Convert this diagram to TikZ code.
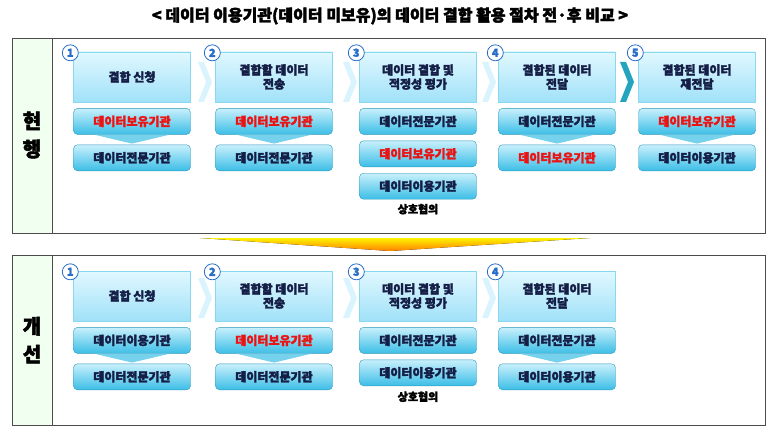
\documentclass[tikz,border=0pt]{standalone}
\usepackage{fontspec}
\setmainfont{Noto Sans CJK KR}[BoldFeatures={FakeBold=2.5}]
\usetikzlibrary{positioning,shapes.geometric}
\definecolor{navy}{RGB}{20,30,70}
\definecolor{rolered}{RGB}{235,20,20}
\definecolor{cyanA}{RGB}{200,240,252}
\definecolor{cyanB}{RGB}{60,190,230}
\definecolor{headA}{RGB}{225,248,255}
\definecolor{headB}{RGB}{160,225,248}
\definecolor{ringblue}{RGB}{40,110,200}
\tikzset{
  headbox/.style={draw=cyanB!60, top color=headA, bottom color=headB, minimum width=117pt,
    minimum height=50pt, align=center, font=\bfseries\fontsize{12}{14}\selectfont, text=navy},
  rolebox/.style={draw=cyanB!80!black, rounded corners=4pt, top color=cyanA, bottom color=cyanB,
    minimum width=117pt, minimum height=26pt, inner sep=1pt, font=\bfseries\fontsize{12}{14}\selectfont, text=navy},
  redrole/.style={rolebox, text=rolered},
  stepnum/.style={circle, draw=ringblue, thick, fill=white, inner sep=0pt, minimum size=16pt,
    font=\bfseries\fontsize{11}{12}\selectfont, text=ringblue},
  framebox/.style={draw=black!70, thick},
  sidebox/.style={draw=black!70, thick, fill=green!6!white},
  chev/.style={fill=cyanA!70!white},
  downtri/.style={fill=cyanB!70},
  note/.style={font=\bfseries\fontsize{11}{12}\selectfont, text=black}
}
\begin{document}
\begin{tikzpicture}[x=1pt,y=-1pt]
\useasboundingbox (0,0) rectangle (780,436);
\node[font=\bfseries\fontsize{16}{18}\selectfont] (title) at (390,16) {< 데이터 이용기관(데이터 미보유)의 데이터 결합 활용 절차 전·후 비교 >};
% frames
\draw[sidebox] (12,38) rectangle (52,233);
\draw[framebox] (52,38) rectangle (765,233);
\draw[sidebox] (12,255) rectangle (52,425);
\draw[framebox] (52,255) rectangle (765,425);
\node[font=\bfseries\fontsize{20}{28}\selectfont, align=center] (now) at (32,135) {현\\행};
\node[font=\bfseries\fontsize{20}{28}\selectfont, align=center] (new) at (32,340) {개\\선};
% wedge between
\fill[top color=yellow!90!orange, bottom color=orange] (200,238) -- (590,238) -- (390,251) -- cycle;
% chevrons top
\foreach \x in {198,343,482}
  \fill[chev] (\x,62) -- (\x+8,82) -- (\x,102) -- (\x+6,102) -- (\x+14,82) -- (\x+6,62) -- cycle;
\fill[cyanB!60!teal] (620,62) -- (628,82) -- (620,102) -- (626,102) -- (634,82) -- (626,62) -- cycle;
% chevrons bottom
\foreach \x in {198,343,482}
  \fill[chev] (\x,278) -- (\x+8,298) -- (\x,318) -- (\x+6,318) -- (\x+14,298) -- (\x+6,278) -- cycle;
% top row
\node[headbox] (h1) at (132,77) {결합 신청};
\node[headbox] (h2) at (274,77) {결합할 데이터\\전송};
\node[headbox] (h3) at (418,77) {데이터 결합 및\\적정성 평가};
\node[headbox] (h4) at (557,77) {결합된 데이터\\전달};
\node[headbox] (h5) at (697,77) {결합된 데이터\\재전달};
\foreach \i in {1,...,5}
  \node[stepnum] (n\i) at ([xshift=-3pt,yshift=-1pt]h\i.north west) {\i};
\node[redrole, below=6pt of h1] (a1) {데이터보유기관};
\node[rolebox, below=10pt of a1] (b1) {데이터전문기관};
\node[redrole, below=6pt of h2] (a2) {데이터보유기관};
\node[rolebox, below=10pt of a2] (b2) {데이터전문기관};
\node[rolebox, below=6pt of h3] (a3) {데이터전문기관};
\node[redrole, below=6pt of a3] (b3) {데이터보유기관};
\node[rolebox, below=6pt of b3] (c3) {데이터이용기관};
\node[note, below=1pt of c3] (m3) {상호협의};
\node[rolebox, below=6pt of h4] (a4) {데이터전문기관};
\node[redrole, below=10pt of a4] (b4) {데이터보유기관};
\node[redrole, below=6pt of h5] (a5) {데이터보유기관};
\node[rolebox, below=10pt of a5] (b5) {데이터이용기관};
\foreach \i in {1,2,4,5}
  \fill[downtri] ([xshift=-38pt]a\i.south) -- ([xshift=38pt]a\i.south) -- ([yshift=1pt]b\i.north) -- cycle;
% bottom row
\node[headbox] (g1) at (132,296) {결합 신청};
\node[headbox] (g2) at (274,296) {결합할 데이터\\전송};
\node[headbox] (g3) at (418,296) {데이터 결합 및\\적정성 평가};
\node[headbox] (g4) at (557,296) {결합된 데이터\\전달};
\foreach \i in {1,...,4}
  \node[stepnum] (k\i) at ([xshift=-3pt,yshift=-1pt]g\i.north west) {\i};
\node[rolebox, below=6pt of g1] (d1) {데이터이용기관};
\node[rolebox, below=10pt of d1] (e1) {데이터전문기관};
\node[redrole, below=6pt of g2] (d2) {데이터보유기관};
\node[rolebox, below=10pt of d2] (e2) {데이터전문기관};
\node[rolebox, below=6pt of g3] (d3) {데이터전문기관};
\node[rolebox, below=6pt of d3] (e3) {데이터이용기관};
\node[note, below=2pt of e3] (m4) {상호협의};
\node[rolebox, below=6pt of g4] (d4) {데이터전문기관};
\node[rolebox, below=10pt of d4] (e4) {데이터이용기관};
\foreach \i in {1,2,4}
  \fill[downtri] ([xshift=-38pt]d\i.south) -- ([xshift=38pt]d\i.south) -- ([yshift=1pt]e\i.north) -- cycle;
\end{tikzpicture}
\end{document}
